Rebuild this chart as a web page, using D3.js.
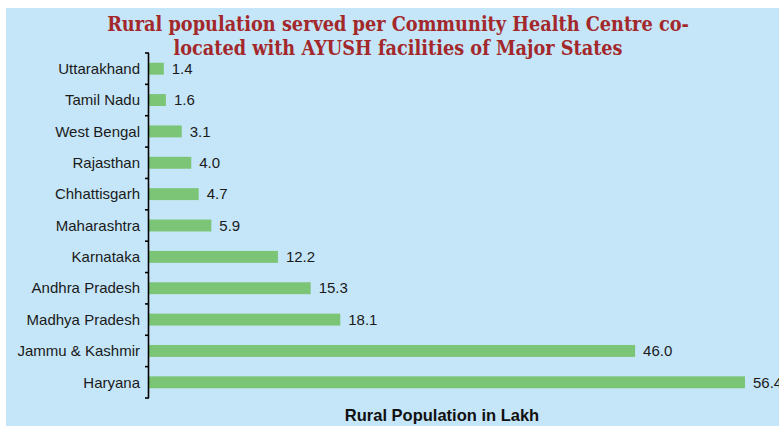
<!DOCTYPE html>
<html>
<head>
<meta charset="utf-8">
<script src="https://cdn.jsdelivr.net/npm/d3@7"></script>
<style>
  body { margin: 0; background: #ffffff; }
  svg { display: block; }
</style>
</head>
<body>
<svg id="chart" width="779" height="426"></svg>
<script>
// Chart data
const states = [
  "Uttarakhand", "Tamil Nadu", "West Bengal", "Rajasthan", "Chhattisgarh",
  "Maharashtra", "Karnataka", "Andhra Pradesh", "Madhya Pradesh",
  "Jammu & Kashmir", "Haryana"
];
const ruralPopLakh = [1.4, 1.6, 3.1, 4.0, 4.7, 5.9, 12.2, 15.3, 18.1, 46.0, 56.4];
const titleLines = [
  "Rural population served per Community Health Centre co-",
  "located with AYUSH facilities of Major States"
];
const axisTitle = "Rural Population in Lakh";

const width = 779;
const height = 426;
const margin = { top: 53, right: 34, bottom: 28, left: 149 };

const svg = d3.select("#chart");

// Panel background
svg.append("rect")
  .attr("x", 6).attr("y", 8)
  .attr("width", width - 6).attr("height", height - 8)
  .attr("fill", "#c5e6f8");

const rows = states.map((name, i) => ({ name, value: ruralPopLakh[i] }));

const x = d3.scaleLinear()
  .domain([0, 56.4])
  .range([margin.left, 745]);

const y = d3.scaleBand()
  .domain(states)
  .range([margin.top, height - margin.bottom])
  .paddingInner(0.62)
  .paddingOuter(0.31);

// Bars
svg.append("g")
  .selectAll("rect")
  .data(rows)
  .join("rect")
  .attr("x", x(0))
  .attr("y", (d) => y(d.name))
  .attr("width", (d) => x(d.value) - x(0))
  .attr("height", y.bandwidth())
  .attr("fill", "#7cc476");

// Value labels (the last one runs off the right edge, as in the source)
svg.append("g")
  .selectAll("text")
  .data(rows)
  .join("text")
  .attr("x", (d) => x(d.value) + 8)
  .attr("y", (d) => y(d.name) + y.bandwidth() / 2)
  .attr("dy", "0.35em")
  .attr("font-family", "Liberation Sans, Arial, sans-serif")
  .attr("font-size", 15)
  .attr("fill", "#1a1a1a")
  .text((d) => d.value.toFixed(1));

// Category axis: spine with ticks on the band boundaries
const step = y.step();
const boundaries = d3.range(states.length + 1).map((i) => margin.top + i * step);
const axisG = svg.append("g");
axisG.append("line")
  .attr("x1", margin.left - 0.5).attr("x2", margin.left - 0.5)
  .attr("y1", margin.top).attr("y2", height - margin.bottom)
  .attr("stroke", "#000").attr("stroke-width", 1.6);
axisG.selectAll(".tick")
  .data(boundaries)
  .join("line")
  .attr("class", "tick")
  .attr("x1", margin.left - 4).attr("x2", margin.left)
  .attr("y1", (b) => b).attr("y2", (b) => b)
  .attr("stroke", "#000").attr("stroke-width", 1.6);

axisG.selectAll(".cat")
  .data(states)
  .join("text")
  .attr("class", "cat")
  .attr("x", margin.left - 9)
  .attr("y", (s) => y(s) + y.bandwidth() / 2)
  .attr("dy", "0.35em")
  .attr("text-anchor", "end")
  .attr("font-family", "Liberation Sans, Arial, sans-serif")
  .attr("font-size", 15)
  .attr("fill", "#1a1a1a")
  .text((s) => s);

// Axis title
svg.append("text")
  .attr("x", (x(0) + x(56.4)) / 2 - 5)
  .attr("y", 421)
  .attr("text-anchor", "middle")
  .attr("font-family", "Liberation Sans, Arial, sans-serif")
  .attr("font-weight", "bold")
  .attr("font-size", 16.5)
  .attr("fill", "#111")
  .text(axisTitle);

// Chart title
svg.append("g")
  .selectAll("text")
  .data(titleLines)
  .join("text")
  .attr("x", 398)
  .attr("y", (d, i) => 31 + i * 24)
  .attr("text-anchor", "middle")
  .attr("font-family", "DejaVu Serif Condensed, DejaVu Serif, serif")
  .attr("font-weight", "bold")
  .attr("font-size", 19.7)
  .attr("fill", "#a3282b")
  .text((d) => d);
</script>
</body>
</html>
